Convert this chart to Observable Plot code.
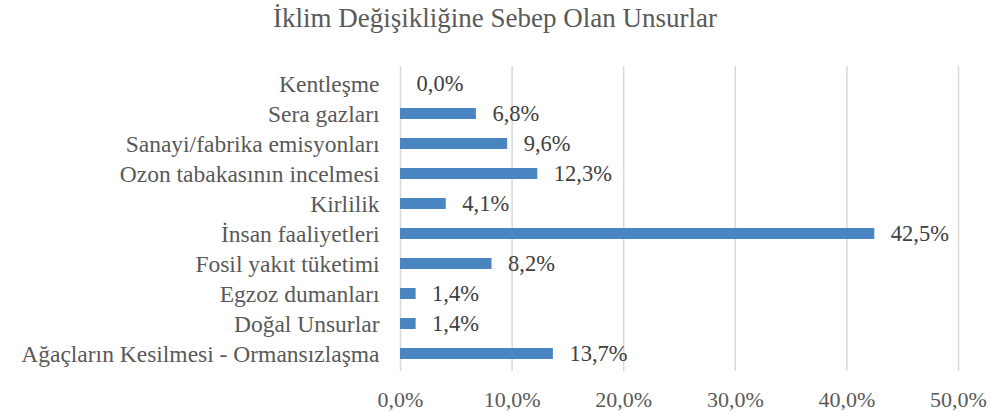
<!DOCTYPE html>
<html>
<head>
<meta charset="utf-8">
<script src="https://cdn.jsdelivr.net/npm/d3@7"></script>
<script src="https://cdn.jsdelivr.net/npm/@observablehq/plot@0.6"></script>
</head>
<body style="margin:0;padding:0;background:#fff">
<div id="title" style="height:36px;line-height:36px;text-align:center;font-family:'Liberation Serif';font-size:27px;color:#595959;width:990px">İklim Değişikliğine Sebep Olan Unsurlar</div>
<div id="chart"></div>
<script>
const categories = [
  "Kentleşme",
  "Sera gazları",
  "Sanayi/fabrika emisyonları",
  "Ozon tabakasının incelmesi",
  "Kirlilik",
  "İnsan faaliyetleri",
  "Fosil yakıt tüketimi",
  "Egzoz dumanları",
  "Doğal Unsurlar",
  "Ağaçların Kesilmesi - Ormansızlaşma"
];
const values = [0.0, 6.8, 9.6, 12.3, 4.1, 42.5, 8.2, 1.4, 1.4, 13.7];
const xTicks = [0, 10, 20, 30, 40, 50];

const data = categories.map((c, i) => ({category: c, value: values[i]}));
const fmt = v => v.toFixed(1).replace(".", ",") + "%";
const FONT = "Liberation Serif";

const chart = Plot.plot({
  width: 990,
  height: 376,
  marginTop: 30,
  marginBottom: 41,
  marginLeft: 400,
  marginRight: 32,
  style: "font-family:'Liberation Serif';background:#fff;color:#595959;overflow:visible",
  x: {domain: [0, 50], ticks: xTicks, tickFormat: fmt, label: null},
  y: {domain: categories, paddingInner: 0.63, paddingOuter: 0.315, label: null},
  marks: [
    Plot.ruleX(xTicks, {stroke: "#d9d9d9", strokeWidth: 1.5}),
    Plot.barX(data, {x: "value", y: "category", fill: "#4a85c1"}),
    Plot.text(data, {x: "value", y: "category", text: d => fmt(d.value), textAnchor: "start", dx: 16, fontSize: 22.5, fontFamily: FONT, fill: "#404040"}),
    Plot.axisX({ticks: xTicks, tickFormat: fmt, tickSize: 0, tickPadding: 19.5, fontSize: 22, fontFamily: FONT, label: null, fill: "#595959"}),
    Plot.axisY({tickSize: 0, tickPadding: 21, fontSize: 23.5, fontFamily: FONT, label: null, fill: "#595959"})
  ]
});
document.getElementById("chart").appendChild(chart);
</script>
</body>
</html>
